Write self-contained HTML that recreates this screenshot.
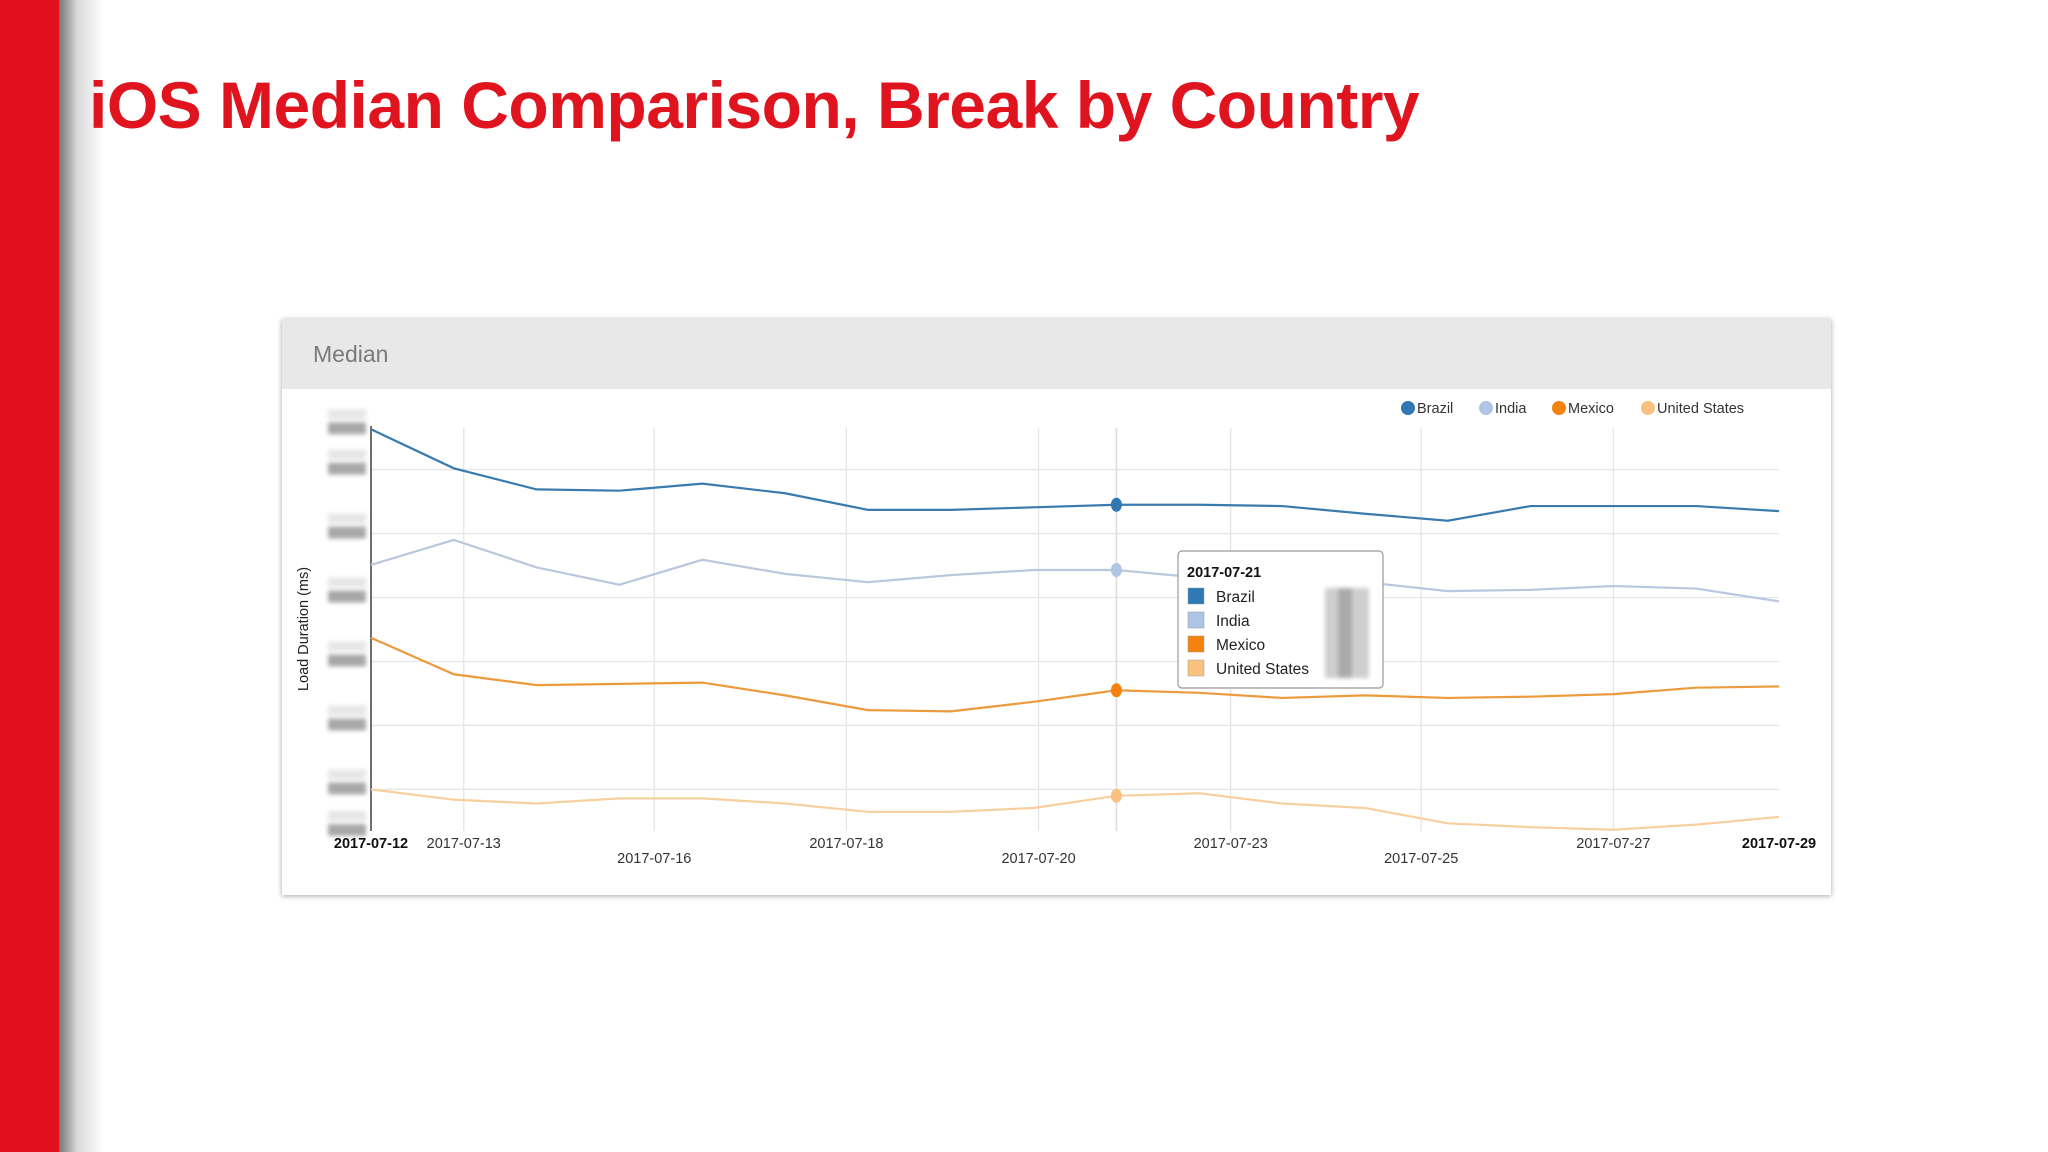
<!DOCTYPE html>
<html><head><meta charset="utf-8">
<style>
html,body{margin:0;padding:0;background:#fff;}
body{width:2048px;height:1152px;overflow:hidden;position:relative;font-family:"Liberation Sans",sans-serif;}
#bar{position:absolute;left:0;top:0;width:59px;height:1152px;background:#e20f1f;}
#barshadow{position:absolute;left:59px;top:0;width:45px;height:1152px;background:linear-gradient(to right,rgba(0,0,0,0.55),rgba(0,0,0,0.15) 40%,rgba(0,0,0,0));}
#title{position:absolute;left:89px;top:67px;font-size:66px;font-weight:bold;color:#e0141f;white-space:nowrap;letter-spacing:-0.5px;}
#card{position:absolute;left:282px;top:319px;width:1549px;height:576px;background:#fff;box-shadow:0 1px 5px rgba(0,0,0,0.35);}
#cardhead{position:absolute;left:0;top:0;width:1549px;height:70px;background:#e8e8e9;}
#cardtitle{position:absolute;left:31px;top:22px;font-size:23px;color:#7a7a7a;}
svg{position:absolute;left:0;top:0;}
</style></head><body>
<div id="bar"></div>
<div id="barshadow"></div>
<div id="title">iOS Median Comparison, Break by Country</div>
<div id="card">
  <div id="cardhead"><div id="cardtitle">Median</div></div>
</div>
<svg id="chart" width="2048" height="1152"></svg>
<script>
const categories=["2017-07-12","2017-07-13","2017-07-14","2017-07-15","2017-07-16","2017-07-17","2017-07-18","2017-07-19","2017-07-20","2017-07-21","2017-07-22","2017-07-23","2017-07-24","2017-07-25","2017-07-26","2017-07-27","2017-07-28","2017-07-29"];
const brazil=[6.63,6.02,5.69,5.67,5.78,5.63,5.37,5.37,5.41,5.45,5.45,5.43,5.31,5.20,5.43,5.43,5.43,5.35];
const india=[4.51,4.90,4.47,4.20,4.59,4.37,4.24,4.35,4.43,4.43,4.31,4.24,4.24,4.10,4.12,4.18,4.14,3.94];
const mexico=[3.37,2.80,2.63,2.65,2.67,2.47,2.24,2.22,2.37,2.55,2.51,2.43,2.47,2.43,2.45,2.49,2.59,2.61];
const unitedStates=[1.00,0.84,0.78,0.86,0.86,0.78,0.65,0.65,0.71,0.90,0.94,0.78,0.71,0.47,0.41,0.37,0.45,0.57];
const seriesNames=["Brazil","India","Mexico","United States"];
const seriesColors=["#2f78b4","#aec5e6","#f5820f","#fbbf80"];
const lineColors=["#3a7bae","#b9c8de","#ec9a3c","#f8cf9e"];
const xTickLabels=["2017-07-13","2017-07-16","2017-07-18","2017-07-20","2017-07-23","2017-07-25","2017-07-27"];
const xTickIndex=[1.12,3.42,5.74,8.06,10.38,12.68,15.0];
const yGridValues=[1,2,3,4,5,6];
const hoverIndex=9;

const svg=document.getElementById('chart');
const NS='http://www.w3.org/2000/svg';
const X0=371,X1=1779,YT=428,YB=831,VMIN=0.35,VMAX=6.65;
function x(i){return X0+(X1-X0)*i/(categories.length-1);}
function y(v){return YB-(YB-YT)*(v-VMIN)/(VMAX-VMIN);}
function mk(tag,attrs,parent){const e=document.createElementNS(NS,tag);for(const k in attrs)e.setAttribute(k,attrs[k]);(parent||svg).appendChild(e);return e;}

const defs=mk('defs',{});
const f=mk('filter',{id:'blur'},defs);mk('feGaussianBlur',{stdDeviation:'2'},f);
const gy=mk('g',{filter:'url(#blur)'});


[...yGridValues,6.63,0.35].forEach(v=>{
  const r=mk('rect',{x:328,y:y(v)-7,width:38,height:12,fill:'#a8a8a8'},gy);
  
  
  mk('rect',{x:328,y:y(v)-20,width:38,height:10,fill:'#e6e6e6'},gy);
});

yGridValues.forEach(v=>{
  const l=mk('line',{x1:X0,x2:X1,y1:y(v),y2:y(v),stroke:'#e6e6e6','stroke-width':1.3});
  
  
});
xTickIndex.forEach((t,k)=>{
  const l=mk('line',{x1:x(t),x2:x(t),y1:YT,y2:YB,stroke:'#e6e6e6','stroke-width':1.3});
  
  
  const tx=mk('text',{x:x(t),y:k%2===0?848:863,'text-anchor':'middle','font-size':14.5,fill:'#333'});
  tx.textContent=xTickLabels[k];
  
  
});
[[0,categories[0]],[categories.length-1,categories[categories.length-1]]].forEach(([i,lab])=>{
  const tx=mk('text',{x:x(i),y:848,'text-anchor':'middle','font-size':14.5,'font-weight':'bold',fill:'#111'});
  tx.textContent=lab;
  
  
});
const hl=mk('line',{x1:x(hoverIndex),x2:x(hoverIndex),y1:YT,y2:YB,stroke:'#dcdcdc','stroke-width':1.5});


const ax=mk('line',{x1:X0,x2:X0,y1:YT-2,y2:YB,stroke:'#222','stroke-width':1.3});


const yt=mk('text',{x:0,y:0,transform:'translate(308,629) rotate(-90)','text-anchor':'middle','font-size':14.5,fill:'#222'});
yt.textContent='Load Duration (ms)';



[brazil,india,mexico,unitedStates].forEach((s,si)=>{
  const p=mk('polyline',{points:s.map((v,i)=>x(i)+','+y(v)).join(' '),fill:'none',stroke:lineColors[si],'stroke-width':2.2});
  
  
  const c=mk('ellipse',{cx:x(hoverIndex),cy:y(s[hoverIndex]),rx:5.5,ry:7,fill:seriesColors[si]});
  
  
});

const legX=[1408,1486,1559,1648];
seriesNames.forEach((n,i)=>{
  const g=mk('g',{});
  
  
  mk('circle',{cx:legX[i],cy:408,r:7,fill:seriesColors[i]},g);
  const t=mk('text',{x:legX[i]+9,y:413,'font-size':14.5,fill:'#333'},g);t.textContent=n;
});

const tg=mk('g',{});


mk('rect',{x:1178,y:551,width:205,height:137,rx:4,fill:'#fff',stroke:'#999','stroke-width':1.2},tg);
const th=mk('text',{x:1187,y:577,'font-size':14.5,'font-weight':'bold',fill:'#111'},tg);th.textContent=categories[hoverIndex];
const tgb=mk('g',{filter:'url(#blur)'},tg);
mk('rect',{x:1325,y:588,width:44,height:90,fill:'#cfcfcf'},tgb);
mk('rect',{x:1338,y:588,width:14,height:90,fill:'#aaa'},tgb);
seriesNames.forEach((n,i)=>{
  const yy=596+i*24;
  const sw=mk('rect',{x:1188,y:yy-8,width:16,height:16,fill:seriesColors[i],stroke:'#999','stroke-width':0.5},tg);
  
  
  const t=mk('text',{x:1216,y:yy+6,'font-size':15.5,fill:'#222'},tg);t.textContent=n;
});
</script>
</body></html>
